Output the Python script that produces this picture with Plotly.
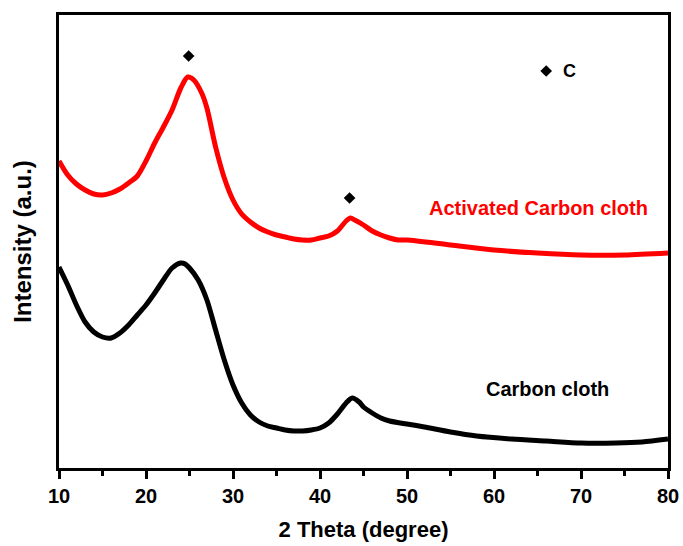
import plotly.graph_objects as go

# Activated carbon cloth (red) - 2theta and intensity (a.u.)
act_x = [10, 11, 12, 13, 14, 15, 16, 17, 18, 19, 20, 21, 22, 23, 24, 24.8, 25.5, 26.4, 27, 28, 29,
         30, 31, 32, 33, 34, 35, 36, 37, 38, 39, 40, 41, 42, 43, 43.5, 44, 45, 46, 47, 48, 49, 50,
         55, 60, 65, 70, 75, 80]
act_y = [307, 293, 284, 278, 274, 273, 275, 279, 285, 292, 307, 325, 341, 358, 380, 391, 388, 375, 360, 321, 290,
         268, 254, 246, 240, 236, 233, 231, 229, 228, 228, 230, 232, 237, 247, 250, 248, 243, 237, 233, 230, 228, 228,
         223, 218, 215, 213, 213, 215]

# Carbon cloth (black)
cc_x = [10, 11, 12, 13, 14, 15, 16, 17, 18, 19, 20, 21, 22, 23, 24, 24.5, 25, 26, 27, 28, 29,
        30, 31, 32, 33, 34, 35, 36, 37, 38, 39, 40, 41, 42, 43, 43.7, 44.5, 45, 46, 47, 48, 50,
        52, 55, 58, 62, 66, 70, 74, 77, 80]
cc_y = [201, 183, 163, 146, 136, 131, 130, 135, 143, 153, 163, 175, 188, 200, 205, 204, 200, 188, 168, 138, 108,
        83, 65, 53, 46, 42, 40, 38, 37, 37, 38, 40, 45, 54, 65, 70, 66, 61, 55, 50, 47, 44,
        41, 36, 32, 29, 27, 25, 25, 26, 29]

# Peak markers (C)
peak_x = [24.9, 43.4]
peak_y = [412, 270]
key_x = [66.0]
key_y = [397]

fig = go.Figure()
fig.add_trace(go.Scatter(x=cc_x, y=cc_y, mode="lines",
                         line=dict(color="black", width=5, shape="spline", smoothing=0.8),
                         name="Carbon cloth", showlegend=False))
fig.add_trace(go.Scatter(x=act_x, y=act_y, mode="lines",
                         line=dict(color="#ff0000", width=5, shape="spline", smoothing=0.8),
                         name="Activated Carbon cloth", showlegend=False))
fig.add_trace(go.Scatter(x=peak_x + key_x, y=peak_y + key_y, mode="markers",
                         marker=dict(symbol="diamond", size=9, color="black"),
                         showlegend=False))

FAM = "Arial, Liberation Sans, sans-serif"
bold = dict(family=FAM, color="black", weight="bold")

fig.add_annotation(x=68.7, y=397, text="C", showarrow=False,
                   font=dict(size=18, **bold))
fig.add_annotation(x=65.1, y=260, text="Activated Carbon cloth", showarrow=False,
                   font=dict(size=20, family=FAM, color="#ff0000", weight="bold"))
fig.add_annotation(x=66.2, y=79, text="Carbon cloth", showarrow=False,
                   font=dict(size=20, **bold))

fig.update_layout(
    width=683, height=546,
    margin=dict(l=59, r=15, t=15, b=78, autoexpand=False),
    plot_bgcolor="white", paper_bgcolor="white",
    xaxis=dict(range=[10, 80], dtick=10, tick0=10, showgrid=False, zeroline=False,
               showline=True, linewidth=3, linecolor="black", mirror=True,
               ticks="outside", ticklen=8, tickwidth=2.5, tickcolor="black",
               minor=dict(dtick=5, tick0=10, ticks="outside", ticklen=5, tickwidth=2.5, tickcolor="black"),
               tickfont=dict(size=20, **bold), automargin=False,
               title=dict(text="2 Theta (degree)", font=dict(size=22, **bold), standoff=16)),
    yaxis=dict(range=[0, 453], showgrid=False, zeroline=False, showticklabels=False,
               showline=True, linewidth=3, linecolor="black", mirror=True, ticks="",
               automargin=False,
               title=dict(text="Intensity (a.u.)", font=dict(size=24, **bold), standoff=18)),
)

fig.write_html("out.html", config={"displayModeBar": False},
               post_script="document.body.style.margin='0';document.body.style.overflow='hidden';")
